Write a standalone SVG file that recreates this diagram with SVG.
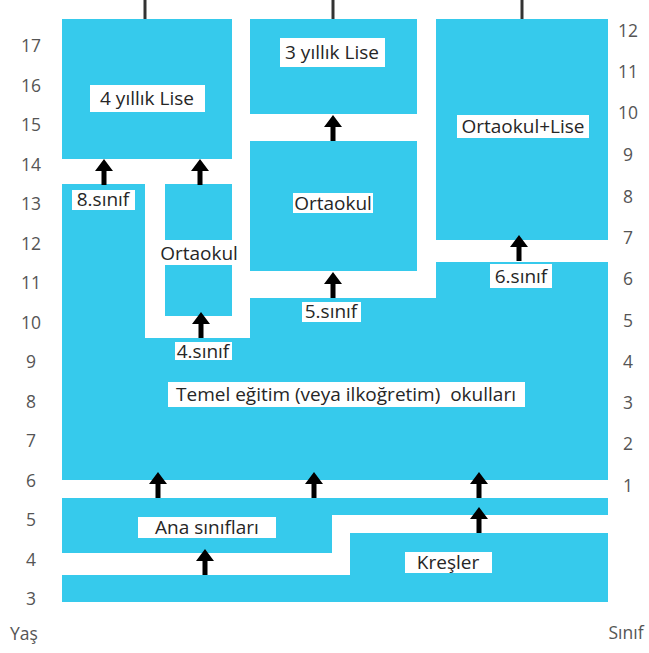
<svg xmlns="http://www.w3.org/2000/svg" xmlns:xlink="http://www.w3.org/1999/xlink" width="649" height="653" viewBox="0 0 649 653">
<style>
.box{fill:#36caec}
.lbg{fill:#ffffff}
.lbl{font-family:"Open Sans",Lato,"Liberation Sans",sans-serif;font-size:19px;fill:#262626;text-anchor:middle;dominant-baseline:central}
.ax{font-family:"Open Sans",Lato,"Liberation Sans",sans-serif;font-size:17.5px;fill:#555;text-anchor:middle;dominant-baseline:central}
.tick{stroke:#333;stroke-width:3}
</style>
<defs>
<path id="arr" d="M0,0 L-9,12 L-2.5,12 L-2.5,26 L2.5,26 L2.5,12 L9,12 Z" fill="#000"/>
</defs>
<rect width="649" height="653" fill="#fff"/>
<g id="ticks">
<line class="tick" x1="145" y1="0" x2="145" y2="19"/>
<line class="tick" x1="333" y1="0" x2="333" y2="19"/>
<line class="tick" x1="522" y1="0" x2="522" y2="19"/>
</g>
<g id="lise4">
<rect class="box" x="62" y="19" width="170" height="140"/>
<rect class="lbg" x="90" y="85" width="115" height="27"/>
<text class="lbl" x="147" y="98">4 yıllık Lise</text>
</g>
<g id="lise3">
<rect class="box" x="250" y="19" width="167" height="95"/>
<rect class="lbg" x="280" y="38" width="105" height="29"/>
<text class="lbl" x="332" y="52">3 yıllık Lise</text>
</g>
<g id="ortaokul-lise">
<rect class="box" x="436" y="19" width="172" height="221"/>
<rect class="lbg" x="457" y="115" width="132" height="23"/>
<text class="lbl" x="523" y="126">Ortaokul+Lise</text>
</g>
<g id="ortaokul-mid">
<rect class="box" x="250" y="141" width="167" height="130"/>
<rect class="lbg" x="293" y="193" width="80" height="20"/>
<text class="lbl" x="333" y="203">Ortaokul</text>
</g>
<g id="ortaokul-left">
<rect class="box" x="165" y="184" width="67" height="56"/>
<rect class="box" x="165" y="265" width="67" height="51"/>
<text class="lbl" x="199" y="253">Ortaokul</text>
</g>
<g id="temel">
<path class="box" d="M62,184 L145,184 L145,338 L250,338 L250,298 L436,298 L436,262 L608,262 L608,480 L62,480 Z"/>
<rect class="lbg" x="168" y="382" width="357" height="25"/>
<text class="lbl" x="346" y="394" xml:space="preserve">Temel eğitim (veya ilkoğretim)  okulları</text>
<rect class="lbg" x="72" y="190" width="63" height="20"/>
<text class="lbl" x="103" y="199">8.sınıf</text>
<rect class="lbg" x="175" y="342" width="57" height="18"/>
<text class="lbl" x="203" y="351">4.sınıf</text>
<rect class="lbg" x="302" y="302" width="59" height="20"/>
<text class="lbl" x="331" y="311">5.sınıf</text>
<rect class="lbg" x="490" y="264" width="62" height="24"/>
<text class="lbl" x="521" y="276">6.sınıf</text>
</g>
<g id="ana">
<path class="box" d="M62,498 L608,498 L608,515 L332,515 L332,553 L62,553 Z"/>
<rect class="lbg" x="138" y="517" width="138" height="21"/>
<text class="lbl" x="207" y="527">Ana sınıfları</text>
</g>
<g id="kresler">
<path class="box" d="M350,533 L608,533 L608,602 L62,602 L62,575 L350,575 Z"/>
<rect class="lbg" x="405" y="552" width="87" height="21"/>
<text class="lbl" x="448" y="562">Kreşler</text>
</g>
<g id="connectors">
<use xlink:href="#arr" x="104" y="159"/>
<use xlink:href="#arr" x="200" y="159"/>
<use xlink:href="#arr" x="333" y="115"/>
<use xlink:href="#arr" x="333" y="272"/>
<use xlink:href="#arr" x="201" y="312"/>
<use xlink:href="#arr" x="519" y="235"/>
<use xlink:href="#arr" x="158" y="472"/>
<use xlink:href="#arr" x="314" y="472"/>
<use xlink:href="#arr" x="479" y="472"/>
<use xlink:href="#arr" x="479" y="507"/>
<use xlink:href="#arr" x="205" y="549"/>
</g>
<g id="axis-yas">
<text class="ax" x="31" y="45">17</text>
<text class="ax" x="31" y="85">16</text>
<text class="ax" x="31" y="124">15</text>
<text class="ax" x="31" y="164">14</text>
<text class="ax" x="31" y="203">13</text>
<text class="ax" x="31" y="243">12</text>
<text class="ax" x="31" y="282">11</text>
<text class="ax" x="31" y="322">10</text>
<text class="ax" x="31" y="361">9</text>
<text class="ax" x="31" y="401">8</text>
<text class="ax" x="31" y="440">7</text>
<text class="ax" x="31" y="480">6</text>
<text class="ax" x="31" y="519">5</text>
<text class="ax" x="31" y="559">4</text>
<text class="ax" x="31" y="598">3</text>
<text class="ax" x="24" y="633">Yaş</text>
</g>
<g id="axis-sinif">
<text class="ax" x="628" y="30">12</text>
<text class="ax" x="628" y="71">11</text>
<text class="ax" x="628" y="112">10</text>
<text class="ax" x="628" y="154">9</text>
<text class="ax" x="628" y="196">8</text>
<text class="ax" x="628" y="237">7</text>
<text class="ax" x="628" y="278">6</text>
<text class="ax" x="628" y="320">5</text>
<text class="ax" x="628" y="361">4</text>
<text class="ax" x="628" y="402">3</text>
<text class="ax" x="628" y="443">2</text>
<text class="ax" x="628" y="485">1</text>
<text class="ax" x="626" y="632">Sınıf</text>
</g>
</svg>
